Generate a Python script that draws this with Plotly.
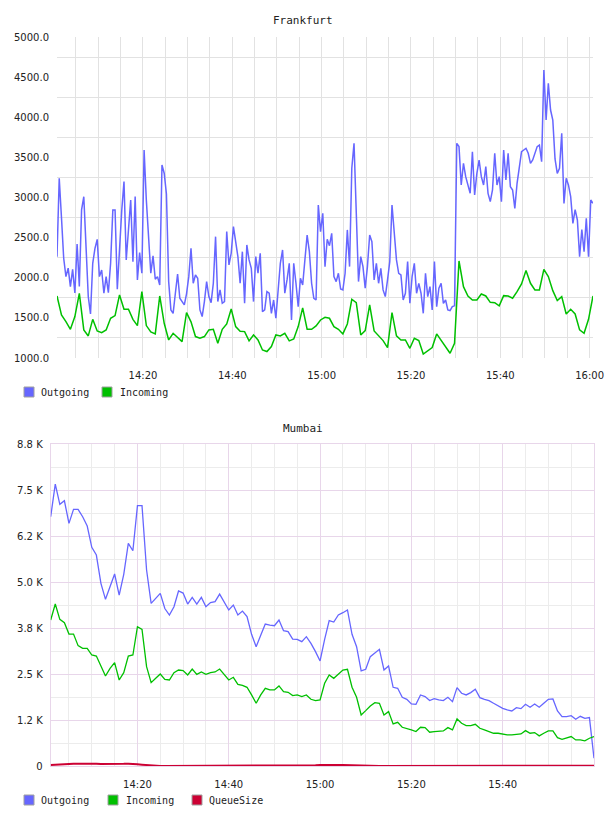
import pandas as pd
import plotly.graph_objects as go

# ---------------- Frankfurt ----------------
fra_outgoing = [
    2263, 3240, 2750, 2243, 2014, 2120, 1890, 2105, 1810, 2421,
    1890, 2845, 3010, 2388, 1765, 1550, 2180, 2367, 2479, 2014,
    2097, 1807, 2014, 1815, 2180, 2845, 2845, 1856, 2429, 2845,
    3198, 2222, 2596, 2969, 2201, 3011, 1973, 2313, 2056, 3592,
    2969, 2442, 2056, 2272, 1981, 2014, 1910, 3405, 3302, 3044,
    1952, 1599, 1557, 1807, 2047, 1744, 1703, 1661, 1800, 2014,
    2367, 1931, 2035, 1993, 1599, 1516, 1703, 1952, 1765, 1690,
    1931, 2512, 1703, 1848, 1682, 1703, 2575, 2160, 2305, 2637,
    2450, 2263, 1931, 2325, 1682, 2409, 2222, 2118, 1703, 2263,
    2056, 2305, 1578, 1599, 1827, 1807, 1557, 1723, 1495, 1848,
    2180, 2346, 1807, 1973, 2180, 1474, 2180, 1931, 1640, 1993,
    1910, 2222, 2533, 2325, 1931, 1744, 1723, 2907, 2575, 2803,
    2139, 2480, 2400, 2554, 2014, 1952, 2056, 1860, 1848, 2056,
    2596, 2139, 3364, 3675, 2803, 1952, 2263, 2139, 1869, 2139,
    2533, 2450, 1973, 2180, 1931, 2118, 1848, 1765, 1973, 2200,
    2907, 2512, 2222, 2056, 2035, 1723, 1807, 2201, 1682, 2014,
    2180, 1807, 1931, 1807, 1557, 2056, 1765, 1890, 1599, 2201,
    1640, 1869, 1931, 1680, 1723, 1599, 1591, 1640, 1650, 3675,
    3634, 3156, 3426, 3260, 3135, 3052, 3571, 3032, 3302, 3467,
    3260, 3156, 3385, 3052, 2948, 3094, 3551, 3156, 3260, 2948,
    3592, 3218, 3551, 3135, 3094, 2865, 3177, 3405, 3571, 3592,
    3613, 3551, 3426, 3467, 3551, 3634, 3654, 3447, 4589, 3966,
    4423, 4090, 3966, 3480, 3300, 3364, 3800, 2927, 3239, 3156,
    3011, 2678, 2850, 2720, 2263, 2600, 2325, 2740, 2263, 2969,
    2927,
]
fra_incoming = [
    1773, 1537, 1453, 1358, 1516, 1806, 1350, 1275, 1482, 1337,
    1316, 1350, 1495, 1528, 1786, 1607, 1607, 1482, 1404, 1827,
    1404, 1325, 1300, 1773, 1433, 1225, 1308, 1258, 1204, 1566,
    1450, 1267, 1246, 1267, 1350, 1358, 1184, 1358, 1424, 1611,
    1391, 1333, 1329, 1213, 1287, 1225, 1100, 1080, 1142, 1287,
    1275, 1308, 1213, 1237, 1391, 1624, 1358, 1358, 1400, 1474,
    1507, 1495, 1391, 1358, 1300, 1424, 1732, 1690, 1287, 1341,
    1661, 1337, 1275, 1217, 1130, 1566, 1275, 1225, 1225, 1121,
    1246, 1217, 1050, 1092, 1130, 1300, 1217, 1142, 1059, 1184,
    2209, 1889, 1773, 1723, 1723, 1798, 1773, 1694, 1690, 1649,
    1777, 1773, 1744, 1827, 1923, 2089, 1931, 1848, 1848, 2105,
    2014, 1839, 1715, 1765, 1549, 1607, 1549, 1350, 1308, 1482,
    1773,
]
fra_ytick_vals = [1000, 1500, 2000, 2500, 3000, 3500, 4000, 4500, 5000]
fra_ytick_text = ["1000.0", "1500.0", "2000.0", "2500.0", "3000.0",
                  "3500.0", "4000.0", "4500.0", "5000.0"]
fra_xtick_text = ["14:20", "14:40", "15:00", "15:20", "15:40", "16:00"]
fra_series = ["Outgoing", "Incoming"]

# ---------------- Mumbai ----------------
mum_outgoing = [
    6774, 7662, 7110, 7208, 6594, 6974, 6974, 6774, 6521, 5942,
    5733, 4964, 4529, 4871, 5217, 4646, 5209, 6051, 5850, 7073,
    7073, 5325, 4420, 4556, 4692, 4280, 4103, 4329, 4755, 4700,
    4401, 4580, 4401, 4583, 4329, 4440, 4465, 4670, 4450, 4239,
    4374, 4103, 4209, 4058, 3578, 3242, 3550, 3858, 3831, 3813,
    3967, 3677, 3650, 3450, 3441, 3378, 3514, 3333, 3107, 2854,
    3441, 3949, 3913, 4103, 4166, 4239, 3578, 3242, 2582, 2628,
    2972, 3081, 3170, 2610, 2719, 2139, 2112, 1867, 1813, 1686,
    1677, 1931, 1886, 1777, 1831, 1795, 1777, 1867, 1750, 2130,
    1976, 1931, 1994, 2085, 1858, 1813, 1777, 1704, 1632, 1568,
    1523, 1496, 1586, 1559, 1677, 1596, 1686, 1596, 1704, 1813,
    1822, 1496, 1342, 1342, 1369, 1270, 1351, 1297, 1315, 210,
]
mum_incoming = [
    3967, 4401, 3985, 3894, 3586, 3586, 3270, 3197, 3197, 3016,
    2989, 2699, 2446, 2654, 2808, 2337, 2537, 2989, 3016, 3786,
    3713, 2699, 2265, 2383, 2500, 2356, 2337, 2537, 2609, 2591,
    2473, 2636, 2491, 2555, 2491, 2537, 2555, 2636, 2500, 2337,
    2410, 2220, 2193, 2139, 1931, 1705, 1931, 2112, 2067, 2067,
    2175, 2021, 2003, 1913, 1931, 1886, 1931, 1813, 1777, 1795,
    2247, 2473, 2383, 2500, 2609, 2628, 2139, 1867, 1388, 1505,
    1632, 1722, 1704, 1388, 1478, 1143, 1188, 1052, 1025, 980,
    935, 1052, 1043, 917, 935, 935, 953, 1043, 980, 1279,
    1161, 1097, 1097, 1134, 1025, 980, 935, 890, 890, 863,
    845, 845, 863, 872, 962, 890, 908, 818, 890, 953,
    953, 772, 727, 772, 800, 709, 709, 682, 754, 800,
]
mum_queue = [
    30, 32, 35, 45, 55, 62, 65, 63, 62, 60,
    58, 55, 52, 50, 52, 55, 58, 62, 60, 45,
    35, 22, 12, 6, 3, 2, 2, 2, 2, 2,
    2, 2, 2, 2, 2, 2, 2, 2, 2, 2,
    2, 2, 2, 2, 2, 2, 2, 2, 2, 2,
    2, 2, 2, 2, 3, 5, 10, 15, 22, 28,
    32, 35, 33, 30, 25, 20, 12, 6, 3, 2,
    2, 2, 2, 2, 2, 2, 2, 2, 2, 2,
    2, 2, 2, 2, 2, 2, 2, 2, 2, 2,
    2, 2, 2, 2, 2, 2, 2, 2, 2, 2,
    2, 2, 2, 2, 2, 2, 2, 2, 2, 2,
    2, 2, 2, 2, 3, 4, 5, 6, 8, 10,
]
mum_ytick_vals = [0, 1250, 2500, 3750, 5000, 6250, 7500, 8750]
mum_ytick_text = ["0", "1.2 K", "2.5 K", "3.8 K", "5.0 K", "6.2 K", "7.5 K", "8.8 K"]
mum_xtick_text = ["14:20", "14:40", "15:00", "15:20", "15:40"]
mum_series = ["Outgoing", "Incoming", "QueueSize"]

DAY = "2014-06-10 "
fra_out_t = pd.date_range(DAY + "14:00:45", periods=len(fra_outgoing), freq="30s")
fra_in_t = pd.date_range(DAY + "14:00:45", periods=len(fra_incoming), freq="60s")
mum_t = pd.date_range(DAY + "14:01:00", periods=len(mum_outgoing), freq="60s")

BLUE = "#6666ff"
GREEN = "#00c000"
RED = "#cc0033"
GRID = "#e2e2e2"
MINOR = "#ececec"
PINK = "#e8d6ea"
TICKFONT = dict(family="DejaVu Sans, Verdana, sans-serif", size=10, color="#222")
MONO = "DejaVu Sans Mono, monospace"

fig = go.Figure()

fig.add_trace(go.Scatter(x=fra_out_t, y=fra_outgoing, mode="lines", name=fra_series[0],
                         line=dict(color=BLUE, width=1.5), xaxis="x", yaxis="y"))
fig.add_trace(go.Scatter(x=fra_in_t, y=fra_incoming, mode="lines", name=fra_series[1],
                         line=dict(color=GREEN, width=1.5), xaxis="x", yaxis="y"))
fig.add_trace(go.Scatter(x=mum_t, y=mum_outgoing, mode="lines", name=mum_series[0],
                         line=dict(color=BLUE, width=1.3), xaxis="x2", yaxis="y2"))
fig.add_trace(go.Scatter(x=mum_t, y=mum_incoming, mode="lines", name=mum_series[1],
                         line=dict(color=GREEN, width=1.3), xaxis="x2", yaxis="y2"))
fig.add_trace(go.Scatter(x=mum_t, y=mum_queue, mode="lines", name=mum_series[2],
                         line=dict(color=RED, width=2), xaxis="x2", yaxis="y2"))

W, H = 608, 816
def px_x(p):
    return p / W
def px_y(p):
    return 1 - p / H

fra_major = [DAY + t for t in fra_xtick_text]
fra_minor = [str(t) for t in pd.date_range(DAY + "14:05", DAY + "16:00", freq="5min")]
mum_major = [DAY + t for t in mum_xtick_text]
mum_minor = [str(t) for t in pd.date_range(DAY + "14:05", DAY + "15:55", freq="5min")]

# legends drawn as swatch + label (flot style)
shapes = []
annotations = []
legend_specs = [
    (fra_series, [BLUE, GREEN], [24, 102], [39, 118], 392),
    (mum_series, [BLUE, GREEN, RED], [24, 108, 192], [39, 124, 207], 800),
]
for names, colors, sx, tx, cy in legend_specs:
    for name, col, x0, x1 in zip(names, colors, sx, tx):
        shapes.append(dict(type="rect", xref="paper", yref="paper",
                           x0=px_x(x0), x1=px_x(x0 + 10), y0=px_y(cy + 5), y1=px_y(cy - 5),
                           fillcolor=col, line=dict(color="#a0a0a0", width=1)))
        annotations.append(dict(text=name, x=px_x(x1), y=px_y(cy), xref="paper", yref="paper",
                                showarrow=False, xanchor="left", yanchor="middle",
                                font=dict(family=MONO, size=10, color="#222")))

annotations.append(dict(text="Frankfurt", x=px_x(303), y=px_y(20), xref="paper", yref="paper",
                        showarrow=False, xanchor="center", yanchor="middle",
                        font=dict(family=MONO, size=11, color="#222")))
annotations.append(dict(text="Mumbai", x=px_x(303), y=px_y(428), xref="paper", yref="paper",
                        showarrow=False, xanchor="center", yanchor="middle",
                        font=dict(family=MONO, size=11, color="#222")))

common = dict(automargin=False, zeroline=False, layer="below traces", tickfont=TICKFONT,
              tickcolor="rgba(0,0,0,0)", ticks="outside")

fig.update_layout(
    width=W, height=H,
    margin=dict(l=0, r=0, t=0, b=0, pad=0, autoexpand=False),
    paper_bgcolor="white", plot_bgcolor="white",
    showlegend=False,
    xaxis=dict(
        domain=[px_x(57), px_x(593)], anchor="y",
        range=[DAY + "14:00:45", DAY + "16:00:45"], type="date",
        tickmode="array", tickvals=fra_major, ticktext=fra_xtick_text,
        showgrid=True, gridcolor=GRID, gridwidth=1,
        minor=dict(tickvals=fra_minor, showgrid=True, gridcolor=GRID, gridwidth=1, ticks=""),
        ticklen=8, showline=False, **common,
    ),
    yaxis=dict(
        domain=[px_y(358), px_y(37)], anchor="x",
        range=[1000, 5000],
        tickmode="array", tickvals=fra_ytick_vals, ticktext=fra_ytick_text,
        showgrid=False,
        minor=dict(tickvals=[1250, 1750, 2250, 2750, 3250, 3750, 4250, 4750],
                   showgrid=True, gridcolor=GRID, gridwidth=1, ticks=""),
        ticklen=5, showline=False, **common,
    ),
    xaxis2=dict(
        domain=[px_x(50.7), px_x(594)], anchor="y2",
        range=[DAY + "14:01:00", DAY + "16:00:00"], type="date",
        tickmode="array", tickvals=mum_major, ticktext=mum_xtick_text,
        showgrid=True, gridcolor=PINK, gridwidth=1,
        minor=dict(tickvals=mum_minor, showgrid=True, gridcolor=MINOR, gridwidth=1, ticks=""),
        ticklen=9, showline=True, mirror=True, linecolor=PINK, linewidth=1, **common,
    ),
    yaxis2=dict(
        domain=[px_y(766), px_y(444)], anchor="x2",
        range=[0, 8750],
        tickmode="array", tickvals=mum_ytick_vals, ticktext=mum_ytick_text,
        showgrid=True, gridcolor=PINK, gridwidth=1,
        minor=dict(tickvals=[625, 1875, 3125, 4375, 5625, 6875, 8125],
                   showgrid=True, gridcolor=MINOR, gridwidth=1, ticks=""),
        ticklen=5, showline=True, mirror=True, linecolor=PINK, linewidth=1, **common,
    ),
    shapes=shapes,
    annotations=annotations,
)

fig.write_html("out.html")
